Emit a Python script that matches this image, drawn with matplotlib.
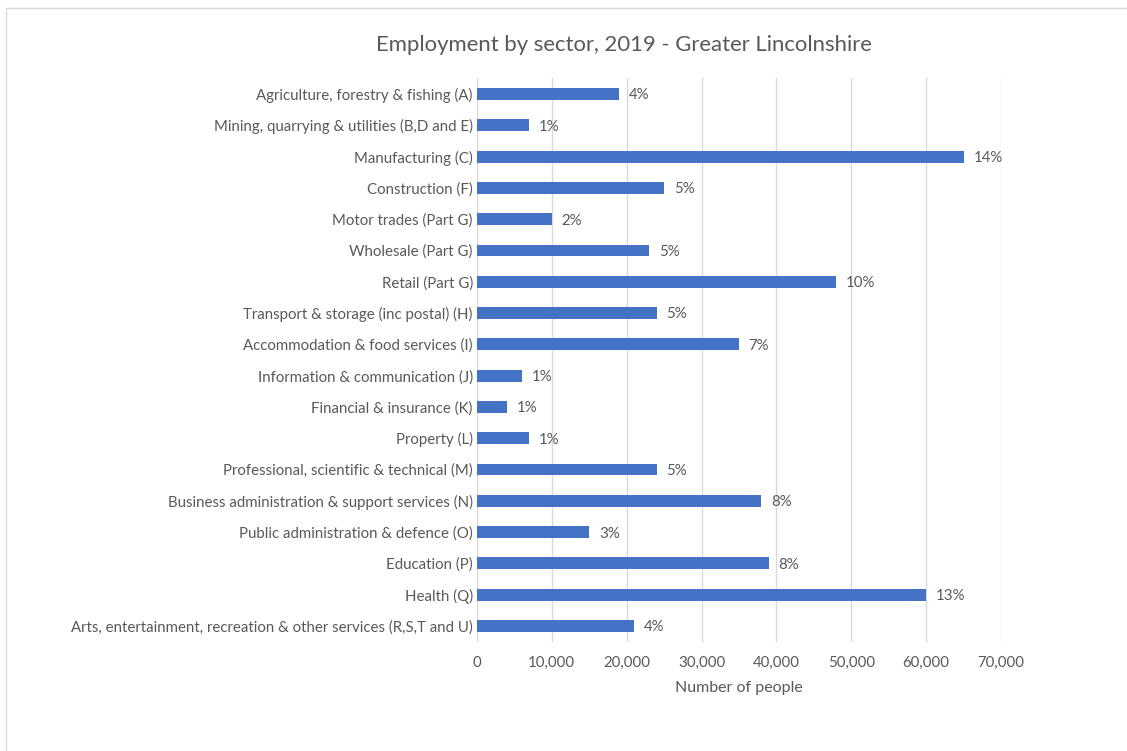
import matplotlib.pyplot as plt
from matplotlib.patches import Rectangle
from matplotlib.ticker import FuncFormatter

plt.rcParams['font.family'] = ['Lato', 'DejaVu Sans']

sectors = [
    "Agriculture, forestry & fishing (A)",
    "Mining, quarrying & utilities (B,D and E)",
    "Manufacturing (C)",
    "Construction (F)",
    "Motor trades (Part G)",
    "Wholesale (Part G)",
    "Retail (Part G)",
    "Transport & storage (inc postal) (H)",
    "Accommodation & food services (I)",
    "Information & communication (J)",
    "Financial & insurance (K)",
    "Property (L)",
    "Professional, scientific & technical (M)",
    "Business administration & support services (N)",
    "Public administration & defence (O)",
    "Education (P)",
    "Health (Q)",
    "Arts, entertainment, recreation & other services (R,S,T and U)",
]
people = [19000, 7000, 65000, 25000, 10000, 23000, 48000, 24000, 35000,
          6000, 4000, 7000, 24000, 38000, 15000, 39000, 60000, 21000]
shares = ["4%", "1%", "14%", "5%", "2%", "5%", "10%", "5%", "7%",
          "1%", "1%", "1%", "5%", "8%", "3%", "8%", "13%", "4%"]

grey = "#595959"

fig = plt.figure(figsize=(11.27, 7.51), dpi=100)
# chart area outline
fig.patches.append(Rectangle((6 / 1127, -0.1), 1.2, (751 - 8) / 751 + 0.1,
                             transform=fig.transFigure, fill=False,
                             edgecolor="#D9D9D9", linewidth=1.0))

ax = fig.add_axes([0.4232, 0.1456, 0.4650, 0.7501])
pos = list(range(len(sectors)))
ax.barh(pos, people, height=0.38, color="#4472C4", zorder=3)
for y, v, s in zip(pos, people, shares):
    ax.annotate(s, (v, y), xytext=(7, -1), textcoords="offset points",
                va="center", ha="left", fontsize=10.8, color=grey)

ax.set_ylim(len(sectors) - 0.5, -0.5)
ax.set_xlim(0, 70000)
ax.set_xticks(range(0, 70001, 10000))
ax.xaxis.set_major_formatter(FuncFormatter(lambda v, p: f"{int(v):,}"))
ax.set_yticks(pos)
ax.set_yticklabels(sectors)
ax.tick_params(axis="both", length=0, colors=grey, labelsize=10.8)
ax.tick_params(axis="y", pad=3)
ax.tick_params(axis="x", pad=10)
ax.grid(axis="x", color="#D9D9D9", linewidth=1, zorder=0)
for sp in ax.spines.values():
    sp.set_visible(False)
ax.set_xlabel("Number of people", fontsize=11.5, color=grey, labelpad=8.5)

fig.text(0.5533, 1 - 45 / 751, "Employment by sector, 2019 - Greater Lincolnshire",
         ha="center", va="center", fontsize=15.9, color=grey)

fig.savefig("out.png", dpi=100)
